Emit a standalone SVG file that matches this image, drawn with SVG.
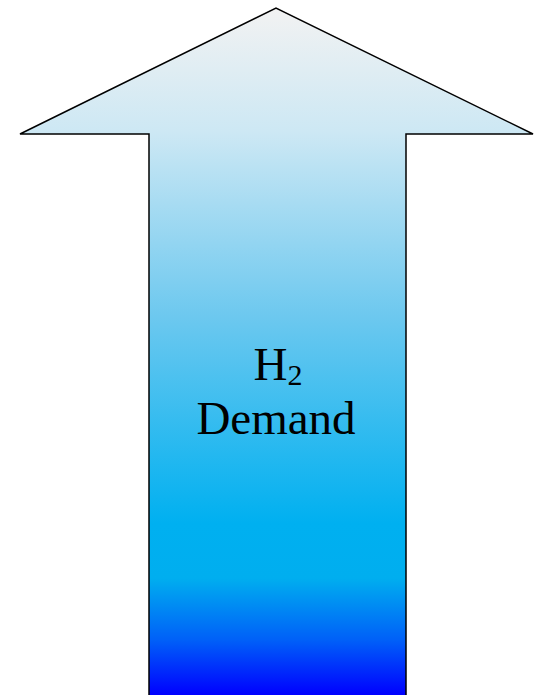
<svg xmlns="http://www.w3.org/2000/svg" width="546" height="695" viewBox="0 0 546 695">
<defs>
<linearGradient id="g" gradientUnits="userSpaceOnUse" x1="0" y1="8" x2="0" y2="695">
<stop offset="0" stop-color="#f2f2f2"/>
<stop offset="0.18" stop-color="#cde8f4"/>
<stop offset="0.45" stop-color="#6cc8ef"/>
<stop offset="0.75" stop-color="#00b0f0"/>
<stop offset="0.83" stop-color="#00aeef"/>
<stop offset="0.92" stop-color="#0060f8"/>
<stop offset="1" stop-color="#0000ff"/>
</linearGradient>
<style>
.lbl{font-family:"Liberation Serif","Times New Roman",serif;font-size:47px;fill:#000;text-anchor:middle}
</style>
</defs>
<g id="arrow">
<path d="M149,700 L149,134 L20,134 L276,8 L533,134 L406,134 L406,700" fill="url(#g)" stroke="#000" stroke-width="1.5" stroke-linejoin="miter"/>
</g>
<g id="label">
<text class="lbl" x="278" y="380">H<tspan font-size="30" dy="5">2</tspan></text>
<text class="lbl" x="276" y="434">Demand</text>
</g>
</svg>
